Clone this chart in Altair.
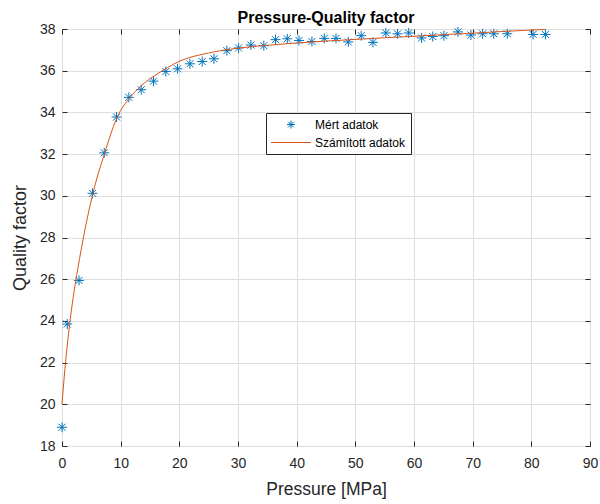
import altair as alt
import pandas as pd

# Measured data (Mért adatok)
meas_p = [0.0, 0.9, 2.9, 5.2, 7.2, 9.3, 11.4, 13.5, 15.6, 17.7,
          19.7, 21.8, 23.9, 25.9, 28.1, 30.1, 32.2, 34.4, 36.4, 38.4,
          40.4, 42.6, 44.7, 46.7, 48.8, 51.0, 53.0, 55.2, 57.2, 59.1,
          61.3, 63.2, 65.1, 67.5, 69.7, 71.7, 73.6, 75.9, 80.3, 82.4]
meas_q = [18.9, 23.85, 25.94, 30.12, 32.06, 33.78, 34.72, 35.09, 35.50, 35.96,
          36.09, 36.33, 36.44, 36.57, 36.96, 37.09, 37.23, 37.20, 37.49, 37.53,
          37.45, 37.40, 37.55, 37.55, 37.38, 37.68, 37.36, 37.81, 37.77, 37.81,
          37.57, 37.64, 37.68, 37.86, 37.71, 37.77, 37.77, 37.77, 37.74, 37.74]

# Computed curve (Számított adatok)
fit_p = [0, 0.5, 1, 1.5, 2, 3, 4, 5, 6, 7, 8, 9, 10, 11, 12, 14, 16, 18, 20,
         25, 30, 35, 40, 45, 50, 55, 60, 65, 70, 75, 80, 82.4]
fit_q = [20.0, 21.7, 23.1, 24.3, 25.3, 27.0, 28.5, 29.8, 30.9, 31.8, 32.7, 33.5, 34.1, 34.5, 34.85,
         35.4, 35.8, 36.15, 36.45, 36.85, 37.08, 37.22, 37.33, 37.42, 37.5, 37.58, 37.65,
         37.73, 37.8, 37.88, 37.95, 37.98]

series_names = ["Mért adatok", "Számított adatok"]
series_colors = ["#0072BD", "#D95319"]
x_ticks = [0, 10, 20, 30, 40, 50, 60, 70, 80, 90]
y_ticks = [18, 20, 22, 24, 26, 28, 30, 32, 34, 36, 38]

ASTERISK = "M-1,0L1,0M0,-1L0,1M-0.7,-0.7L0.7,0.7M-0.7,0.7L0.7,-0.7"
LINE = "M-5,0L5,0"

FONT = "Liberation Sans"
AX = "#262626"
GRID = "#dedede"

meas = pd.DataFrame({"p": meas_p, "q": meas_q, "s": series_names[0]})
fit = pd.DataFrame({"p": fit_p, "q": fit_q, "s": series_names[1]})

x_scale = alt.Scale(domain=[0, 90], nice=False, zero=False)
y_scale = alt.Scale(domain=[18, 38], nice=False, zero=False)

legend = alt.Legend(
    title=None, orient="none", legendX=204, legendY=84, direction="vertical",
    fillColor="white", strokeColor=AX, padding=5.5, cornerRadius=0,
    symbolSize=64, symbolStrokeWidth=1, symbolOffset=13.5, labelOffset=18,
    labelFont=FONT, labelFontSize=12, labelColor="black", rowPadding=6,
    symbolFillColor="transparent",
)
color_enc = alt.Color("s:N", scale=alt.Scale(domain=series_names, range=series_colors), legend=legend)
shape_enc = alt.Shape("s:N", scale=alt.Scale(domain=series_names, range=[ASTERISK, LINE]), legend=legend)

main_x = alt.Axis(orient="bottom", offset=-5, tickSize=5, domain=False, grid=True, values=x_ticks,
                  labelFont=FONT, labelFontSize=14, labelColor=AX, labelPadding=10, tickColor=AX,
                  labelFlush=False,
                  gridColor=GRID, title="Pressure [MPa]", titleFont=FONT, titleFontSize=17.5,
                  titleFontWeight="normal", titleColor=AX, titlePadding=10)
main_y = alt.Axis(orient="left", offset=-5, tickSize=5, domain=False, grid=True, values=y_ticks,
                  labelFont=FONT, labelFontSize=14, labelColor=AX, labelPadding=7, tickColor=AX,
                  labelFlush=False,
                  gridColor=GRID, title="Quality factor", titleFont=FONT, titleFontSize=18,
                  titleFontWeight="normal", titleColor=AX, titlePadding=10)
top_x = alt.Axis(orient="top", offset=-5, tickSize=5, domain=False, grid=False, labels=False,
                 values=x_ticks, tickColor=AX, title=None)
right_y = alt.Axis(orient="right", offset=-5, tickSize=5, domain=False, grid=False, labels=False,
                   values=y_ticks, tickColor=AX, title=None)

points = alt.Chart(meas).mark_point(filled=False, size=100, strokeWidth=1, opacity=1).encode(
    x=alt.X("p:Q", scale=x_scale, axis=main_x),
    y=alt.Y("q:Q", scale=y_scale, axis=main_y),
    color=color_enc,
    shape=shape_enc,
)
line = alt.Chart(fit).mark_line(strokeWidth=1, interpolate="monotone").encode(
    x=alt.X("p:Q", scale=x_scale, axis=top_x),
    y=alt.Y("q:Q", scale=y_scale, axis=right_y),
    color=color_enc,
)

chart = alt.layer(points, line).resolve_axis(x="independent", y="independent").properties(
    width=528, height=417,
    autosize=alt.AutoSizeParams(type="none"),
    padding={"left": 62, "top": 29, "right": 10, "bottom": 58},
    title=alt.TitleParams("Pressure-Quality factor", font=FONT, fontSize=16, fontWeight="bold",
                          color="black", anchor="middle", offset=-4),
    background="white",
).configure_view(stroke=AX, strokeWidth=1)

chart.save("out.html", embed_options={"renderer": "svg", "actions": False})
